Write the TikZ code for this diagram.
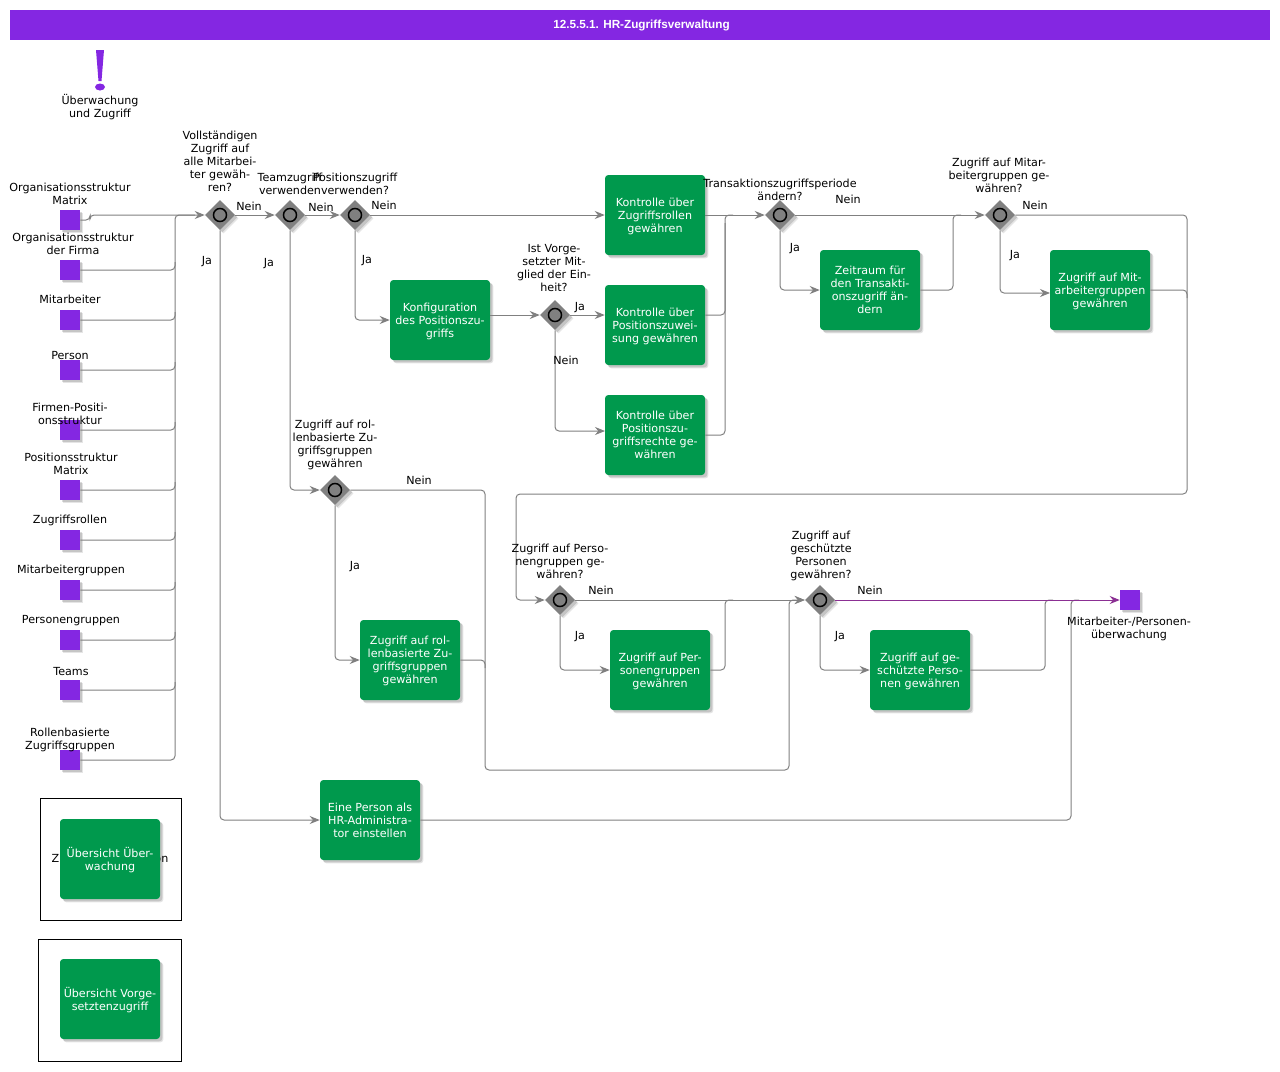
\documentclass[tikz,border=0pt]{standalone}
\usepackage{fontspec}
\setmainfont{DejaVu Sans}
\newfontfamily\titlefont{Liberation Sans}
\usetikzlibrary{arrows.meta,shapes.geometric,shadows}
\definecolor{colorP}{HTML}{8427E2}
\definecolor{colorT}{HTML}{00994D}
\definecolor{colorL}{HTML}{808080}
\definecolor{colorE}{HTML}{8B2F93}
\tikzset{
	dropped/.style={drop shadow={shadow xshift=2.6pt,shadow yshift=-2.6pt,fill=black,opacity=0.1},drop shadow={shadow xshift=1.8pt,shadow yshift=-1.8pt,fill=black,opacity=0.14}},
	task/.style={dropped,fill=colorT,text=white,rounded corners=2.5pt,minimum width=75pt,minimum height=60pt,inner sep=0pt,align=center,font=\lbl,text depth=0pt},
	gate/.style={dropped,diamond,fill=colorL,minimum width=22.5pt,minimum height=22.5pt,inner sep=0pt,
		path picture={\draw[black,line width=1.1pt] (path picture bounding box.center) circle (4.9pt);}},
	evt/.style={dropped,fill=colorP,minimum width=15pt,minimum height=15pt,inner sep=0pt},
	framebox/.style={draw=black,line width=0.75pt,inner sep=0pt},
	lab/.style={align=center,font=\lbl,inner sep=0pt,text depth=0pt},
	conn/.style={colorL,line width=0.75pt,rounded corners=3pt},
	arr/.style={conn,-{Stealth[length=7.5pt,width=6pt]}},
}
\newcommand{\lbl}{\fontsize{8.35}{9.75}\selectfont}
\begin{document}
\begin{tikzpicture}[x=0.75pt,y=-0.75pt]
	\useasboundingbox (0,0) rectangle (1280,1071);
	% title and mark
	\node[fill=colorP,minimum width=945pt,minimum height=22.5pt,inner sep=0pt] (title) at (640,25) {};
	\node[text=white,inner sep=0pt,font=\titlefont\bfseries\fontsize{8.8}{11}\selectfont] (titletext) at (641.5,25.5) {12.5.5.1. HR-Zugriffsverwaltung};
	\fill[colorP] (96,50) -- (104,50) -- (101.5,81) -- (98.5,81) -- cycle;
	\fill[colorP] (100,87) ellipse (5 and 3.5);
	% overview frames
	\node[framebox,minimum width=105.75pt,minimum height=91.5pt] (frameA) at (110.5,859) {};
	\node[framebox,minimum width=107.25pt,minimum height=91.5pt] (frameB) at (109.5,1000) {};
	\node[lab] (hidden) at (110,858) {Zugriffskonfiguration};
	% events
	\node[evt] (orgm) at (70,220) {};
	\node[evt] (orgf) at (70,270) {};
	\node[evt] (mita) at (70,320) {};
	\node[evt] (pers) at (70,370) {};
	\node[evt] (firm) at (70,430) {};
	\node[evt] (posm) at (70,490) {};
	\node[evt] (zrol) at (70,540) {};
	\node[evt] (mgrp) at (70,590) {};
	\node[evt] (pgrp) at (70,640) {};
	\node[evt] (team) at (70,690) {};
	\node[evt] (rgrp) at (70,760) {};
	\node[evt] (endev) at (1130,600) {};
	% gateways
	\node[gate] (gVoll) at (220,215) {};
	\node[gate] (gTeam) at (290,215) {};
	\node[gate] (gPos) at (355,215) {};
	\node[gate] (gVorg) at (555,315) {};
	\node[gate] (gTrans) at (780,215) {};
	\node[gate] (gMgrp) at (1000,215) {};
	\node[gate] (gRol) at (335,490) {};
	\node[gate] (gPgrp) at (560,600) {};
	\node[gate] (gSchutz) at (820,600) {};
	% tasks
	\node[task] (tRol) at (655,215) {Kontrolle über\\Zugriffsrollen\\gewähren};
	\node[task] (tKonf) at (440,320) {Konfiguration\\des Positionszu-\\griffs};
	\node[task] (tZuw) at (655,325) {Kontrolle über\\Positionszuwei-\\sung gewähren};
	\node[task] (tRecht) at (655,435) {Kontrolle über\\Positionszu-\\griffsrechte ge-\\währen};
	\node[task] (tZeit) at (870,290) {Zeitraum für\\den Transakti-\\onszugriff än-\\dern};
	\node[task] (tMgrp) at (1100,290) {Zugriff auf Mit-\\arbeitergruppen\\gewähren};
	\node[task] (tRgrp) at (410,660) {Zugriff auf rol-\\lenbasierte Zu-\\griffsgruppen\\gewähren};
	\node[task] (tPgrp) at (660,670) {Zugriff auf Per-\\sonengruppen\\gewähren};
	\node[task] (tSchutz) at (920,670) {Zugriff auf ge-\\schützte Perso-\\nen gewähren};
	\node[task] (tAdmin) at (370,820) {Eine Person als\\HR-Administra-\\tor einstellen};
	\node[task] (tUeb) at (110,859) {Übersicht Über-\\wachung};
	\node[task] (tVorg) at (110,999) {Übersicht Vorge-\\setztenzugriff};
	% bends
	\coordinate (rail) at (175,215);
	\coordinate (joinT) at (725,215);
	\coordinate (joinZ) at (953,215);
	\coordinate (backA) at (1187,215);
	\coordinate (backB) at (1187,494);
	\coordinate (backC) at (516,494);
	\coordinate (backD) at (516,600);
	\coordinate (lowA) at (485,490);
	\coordinate (lowB) at (485,770);
	\coordinate (lowC) at (789,770);
	\coordinate (lowD) at (789,600);
	\coordinate (inRecht) at (605,431);
	\coordinate (inMgrp) at (1050,293);
	\coordinate (joinP) at (725,600);
	\coordinate (joinS) at (1045,600);
	\coordinate (joinA) at (1071,600);
	% inputs
	\draw[arr] (orgm.east) -- (90,220) -- (90,215) -- (gVoll.west);
	\draw[conn] (orgf.east) -| (175,262);
	\draw[conn] (mita.east) -| (175,312);
	\draw[conn] (pers.east) -| (175,362);
	\draw[conn] (firm.east) -| (175,422);
	\draw[conn] (posm.east) -| (175,482);
	\draw[conn] (zrol.east) -| (175,532);
	\draw[conn] (mgrp.east) -| (175,582);
	\draw[conn] (pgrp.east) -| (175,632);
	\draw[conn] (team.east) -| (175,682);
	\draw[conn] (rgrp.east) -| (rail) -- (195,215);
	% upper flow
	\draw[arr] (gVoll.east) -- (gTeam.west);
	\draw[arr] (gTeam.east) -- (gPos.west);
	\draw[arr] (gPos.east) -- (tRol.west);
	\draw[arr] (gVoll.south) |- (tAdmin.west);
	\draw[arr] (gTeam.south) |- (gRol.west);
	\draw[arr] (gPos.south) |- (tKonf.west);
	\draw[arr] (tKonf.east |- gVorg) -- (gVorg.west);
	\draw[arr] (gVorg.east) -- (tZuw.west |- gVorg);
	\draw[arr] (gVorg.south) |- (inRecht);
	\draw[arr] (tRol.east) -- (gTrans.west);
	\draw[conn] (tZuw.east |- gVorg) -| (725,223);
	\draw[conn] (tRecht.east) -| (joinT) -- (733,215);
	\draw[arr] (gTrans.east) -- (gMgrp.west);
	\draw[arr] (gTrans.south) |- (tZeit.west);
	\draw[conn] (tZeit.east) -| (joinZ) -- (961,215);
	\draw[arr] (gMgrp.south) |- (inMgrp);
	% way back
	\draw[arr] (gMgrp.east) -- (backA) -- (backB) -- (backC) -- (backD) -- (gPgrp.west);
	\draw[conn] (tMgrp.east) -| (1187,298);
	% lower flow
	\draw[arr] (gRol.south) |- (tRgrp.west);
	\draw[arr] (gRol.east) -- (lowA) -- (lowB) -- (lowC) -- (lowD) -- (gSchutz.west);
	\draw[conn] (tRgrp.east) -| (485,668);
	\draw[arr] (gPgrp.east) -- (gSchutz.west);
	\draw[arr] (gPgrp.south) |- (tPgrp.west);
	\draw[conn] (tPgrp.east) -| (joinP) -- (733,600);
	\draw[arr] (gSchutz.south) |- (tSchutz.west);
	\draw[conn] (tSchutz.east) -| (joinS) -- (1053,600);
	\draw[conn] (tAdmin.east) -| (joinA) -- (1079,600);
	\draw[arr,colorE] (gSchutz.east) -- (endev.west);
	% labels
	\node[lab] (lMark) at (100,105.5) {Überwachung\\und Zugriff};
	\node[lab] (lOrgm) at (70,194) {Organisationsstruktur\\Matrix};
	\node[lab] (lOrgf) at (73,244) {Organisationsstruktur\\der Firma};
	\node[lab] (lMita) at (70,299) {Mitarbeiter};
	\node[lab] (lPers) at (70,355) {Person};
	\node[lab] (lFirm) at (70,413.5) {Firmen-Positi-\\onsstruktur};
	\node[lab] (lPosm) at (71,464) {Positionsstruktur\\Matrix};
	\node[lab] (lZrol) at (70,519) {Zugriffsrollen};
	\node[lab] (lMgrp) at (71,569) {Mitarbeitergruppen};
	\node[lab] (lPgrp) at (71,619) {Personengruppen};
	\node[lab] (lTeam) at (71,671) {Teams};
	\node[lab] (lRgrp) at (70,738.5) {Rollenbasierte\\Zugriffsgruppen};
	\node[lab] (lVoll) at (220,161) {Vollständigen\\Zugriff auf\\alle Mitarbei-\\ter gewäh-\\ren?};
	\node[lab] (lTeamz) at (290,183.5) {Teamzugriff\\verwenden};
	\node[lab] (lPos) at (355,183.5) {Positionszugriff\\verwenden?};
	\node[lab] (lVorg) at (554,268) {Ist Vorge-\\setzter Mit-\\glied der Ein-\\heit?};
	\node[lab] (lTrans) at (780,189.5) {Transaktionszugriffsperiode\\ändern?};
	\node[lab] (lGmgrp) at (999,175.5) {Zugriff auf Mitar-\\beitergruppen ge-\\währen?};
	\node[lab] (lRol) at (335,444) {Zugriff auf rol-\\lenbasierte Zu-\\griffsgruppen\\gewähren};
	\node[lab] (lGpgrp) at (560,561) {Zugriff auf Perso-\\nengruppen ge-\\währen?};
	\node[lab] (lSchutz) at (821,555) {Zugriff auf\\geschützte\\Personen\\gewähren?};
	\node[lab] (lEnd) at (1129,627.5) {Mitarbeiter-/Personen-\\überwachung};
	% branch labels
	\node[lab] (nVoll) at (249,206) {Nein};
	\node[lab] (nTeam) at (321,207) {Nein};
	\node[lab] (nPos) at (384,205) {Nein};
	\node[lab] (nVorg) at (566,360) {Nein};
	\node[lab] (nTrans) at (848,199) {Nein};
	\node[lab] (nMgrp) at (1035,205) {Nein};
	\node[lab] (nRol) at (419,480) {Nein};
	\node[lab] (nPgrp) at (601,590) {Nein};
	\node[lab] (nSchutz) at (870,590) {Nein};
	\node[lab] (jVoll) at (207,260) {Ja};
	\node[lab] (jTeam) at (269,262) {Ja};
	\node[lab] (jPos) at (367,259) {Ja};
	\node[lab] (jVorg) at (580,306) {Ja};
	\node[lab] (jTrans) at (795,247) {Ja};
	\node[lab] (jMgrp) at (1015,254) {Ja};
	\node[lab] (jRol) at (355,565) {Ja};
	\node[lab] (jPgrp) at (580,635) {Ja};
	\node[lab] (jSchutz) at (840,635) {Ja};
\end{tikzpicture}
\end{document}
